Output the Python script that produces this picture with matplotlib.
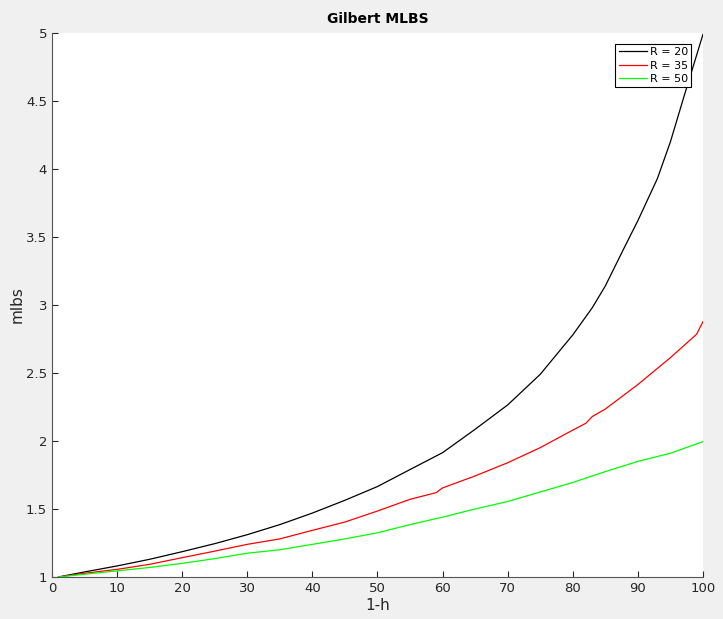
import matplotlib
matplotlib.use("Agg")
from matplotlib import pyplot as plt
import numpy as np

# values (x = 1-h)
x_r20 = [1, 5, 10, 15, 20, 25, 30, 35, 40, 45, 50, 55, 60, 65, 70, 75, 80, 83, 85, 88, 90, 93, 95, 97, 100]
mlbs_r20 = [1.0, 1.037, 1.081, 1.13, 1.186, 1.245, 1.311, 1.385, 1.47, 1.564, 1.665, 1.79, 1.914,
            2.086, 2.265, 2.49, 2.78, 2.98, 3.14, 3.43, 3.62, 3.93, 4.20, 4.52, 4.99]

x_r35 = [1, 5, 10, 15, 20, 25, 30, 35, 40, 45, 50, 55, 59, 60, 65, 70, 75, 80, 82, 83, 85, 90, 95, 99, 100]
mlbs_r35 = [1.0, 1.027, 1.056, 1.093, 1.142, 1.19, 1.24, 1.28, 1.343, 1.404, 1.485, 1.571, 1.62, 1.655,
            1.743, 1.84, 1.951, 2.08, 2.13, 2.18, 2.235, 2.415, 2.613, 2.784, 2.877]

x_r50 = [1, 5, 10, 15, 20, 25, 30, 35, 40, 45, 50, 55, 60, 65, 70, 75, 80, 85, 90, 95, 100]
mlbs_r50 = [1.0, 1.02, 1.045, 1.07, 1.10, 1.135, 1.175, 1.20, 1.24, 1.28, 1.325, 1.385, 1.44,
            1.50, 1.555, 1.625, 1.695, 1.775, 1.85, 1.91, 1.995]

labels = ["R = 20", "R = 35", "R = 50"]
colors = ["#000000", "#ff0000", "#00ff00"]

fig = plt.figure(figsize=(7.23, 6.19), dpi=100, facecolor="#f0f0f0")
ax = fig.add_axes([0.0719, 0.0679, 0.9004, 0.8788])
ax.set_facecolor("white")

for xs, ys, lab, col in zip([x_r20, x_r35, x_r50], [mlbs_r20, mlbs_r35, mlbs_r50], labels, colors):
    ax.plot(xs, ys, color=col, linewidth=0.9, label=lab)

ax.set_xlim(0, 100)
ax.set_ylim(1, 5)
ax.set_xticks(np.arange(0, 101, 10))
ax.set_yticks(np.arange(1, 5.01, 0.5))
ax.set_yticklabels(["1", "1.5", "2", "2.5", "3", "3.5", "4", "4.5", "5"])

for side in ["top", "right"]:
    ax.spines[side].set_visible(False)
for side in ["left", "bottom"]:
    ax.spines[side].set_color("#555555")
    ax.spines[side].set_linewidth(0.8)

ax.tick_params(direction="in", length=4, width=0.8, color="#262626",
               labelcolor="#262626", labelsize=9.5)

ax.set_title("Gilbert MLBS", fontsize=10, fontweight="bold", pad=7)
ax.set_xlabel("1-h", fontsize=11, color="#262626", labelpad=2)
ax.set_ylabel("mlbs", fontsize=11, color="#262626", labelpad=1)

leg = ax.legend(loc="upper right", bbox_to_anchor=(0.982, 0.98), fontsize=8,
                fancybox=False, framealpha=1, edgecolor="black",
                handlelength=2.6, handletextpad=0.2, borderpad=0.3,
                labelspacing=0.3, borderaxespad=0)
leg.get_frame().set_linewidth(0.8)

fig.savefig("out.png", dpi=100, facecolor=fig.get_facecolor())
